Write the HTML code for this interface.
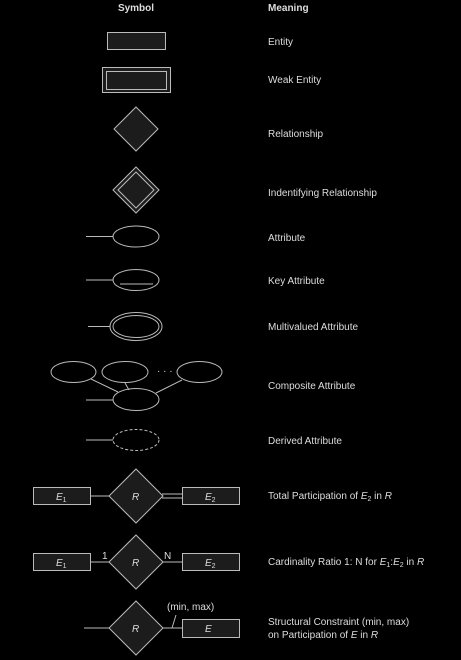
<!DOCTYPE html>
<html><head><style>
html,body{margin:0;padding:0;background:#000;}
svg{display:block}
text{font-family:"Liberation Sans",sans-serif;fill:#ddd;font-size:10px}
</style></head><body>
<svg width="461" height="660" viewBox="0 0 461 660" xmlns="http://www.w3.org/2000/svg">
<g stroke="#bbb" stroke-width="1" fill="none">
<rect x="107.5" y="32.5" width="58" height="17" fill="#1c1c1c"/>
<rect x="102.5" y="67.5" width="68" height="25" fill="#1c1c1c"/>
<rect x="106.5" y="71.5" width="60" height="18"/>
<polygon points="136,107 158,129 136,151 114,129" fill="#1c1c1c"/>
<polygon points="136,167 159,190 136,213 113,190" fill="#1c1c1c"/>
<polygon points="136,172 154,190 136,208 118,190"/>
<line x1="86" y1="236.5" x2="113" y2="236.5"/>
<ellipse cx="136" cy="236.5" rx="23" ry="10.5"/>
<line x1="86" y1="280" x2="113" y2="280"/>
<ellipse cx="136" cy="280" rx="23" ry="10.5"/>
<line x1="120" y1="284" x2="153" y2="284"/>
<line x1="88" y1="326.5" x2="110" y2="326.5"/>
<ellipse cx="136" cy="326.5" rx="26" ry="14"/>
<ellipse cx="136" cy="326.5" rx="23" ry="11"/>
<ellipse cx="73.5" cy="372" rx="22.5" ry="10.5"/>
<ellipse cx="125" cy="372" rx="23" ry="10.5"/>
<ellipse cx="199.5" cy="372" rx="22.5" ry="10.5"/>
<ellipse cx="136" cy="399.5" rx="23" ry="11"/>
<line x1="86" y1="400" x2="113" y2="400"/>
<line x1="91" y1="379" x2="118" y2="392"/>
<line x1="125" y1="383" x2="129" y2="390"/>
<line x1="182" y1="380" x2="156" y2="393"/>
<line x1="86" y1="440" x2="113" y2="440"/>
<ellipse cx="136" cy="440" rx="23" ry="10.5" stroke-dasharray="3,2"/>
<!-- total participation -->
<rect x="33.5" y="487.5" width="57" height="17" fill="#1c1c1c"/>
<rect x="182.5" y="487.5" width="57" height="17" fill="#1c1c1c"/>
<polygon points="136,469 163,496 136,523 109,496" fill="#1c1c1c"/>
<line x1="91" y1="496" x2="109" y2="496"/>
<line x1="162" y1="494" x2="182" y2="494"/>
<line x1="162" y1="498" x2="182" y2="498"/>
<!-- cardinality -->
<rect x="33.5" y="553.5" width="57" height="17" fill="#1c1c1c"/>
<rect x="182.5" y="553.5" width="57" height="17" fill="#1c1c1c"/>
<polygon points="136,535 163,562 136,589 109,562" fill="#1c1c1c"/>
<line x1="91" y1="562" x2="109" y2="562"/>
<line x1="163" y1="562" x2="182" y2="562"/>
<!-- structural -->
<polygon points="136,601 163,628 136,655 109,628" fill="#1c1c1c"/>
<rect x="182.5" y="619.5" width="57" height="18" fill="#1c1c1c"/>
<line x1="84" y1="628" x2="109" y2="628"/>
<line x1="163" y1="628" x2="182" y2="628"/>
<line x1="172" y1="628" x2="176" y2="615"/>
</g>
<text x="136" y="11" text-anchor="middle" font-weight="bold">Symbol</text>
<text x="268" y="11" font-weight="bold">Meaning</text>
<text x="268" y="45">Entity</text>
<text x="268" y="83">Weak Entity</text>
<text x="268" y="137">Relationship</text>
<text x="268" y="196">Indentifying Relationship</text>
<text x="268" y="241">Attribute</text>
<text x="268" y="284">Key Attribute</text>
<text x="268" y="330">Multivalued Attribute</text>
<text x="268" y="389">Composite Attribute</text>
<text x="268" y="444">Derived Attribute</text>
<text x="268" y="499">Total Participation of <tspan font-style="italic">E</tspan><tspan font-size="7" dy="2">2</tspan><tspan dy="-2"> in </tspan><tspan font-style="italic">R</tspan></text>
<text x="268" y="565">Cardinality Ratio 1: N for <tspan font-style="italic">E</tspan><tspan font-size="7" dy="2">1</tspan><tspan dy="-2">:</tspan><tspan font-style="italic">E</tspan><tspan font-size="7" dy="2">2</tspan><tspan dy="-2"> in </tspan><tspan font-style="italic">R</tspan></text>
<text x="268" y="625">Structural Constraint (min, max)</text>
<text x="268" y="638">on Participation of <tspan font-style="italic">E</tspan> in <tspan font-style="italic">R</tspan></text>
<text x="132" y="500" font-style="italic">R</text>
<text x="132" y="566" font-style="italic">R</text>
<text x="132" y="632" font-style="italic">R</text>
<text x="56" y="500" font-style="italic">E<tspan font-size="7" dy="2" font-style="normal">1</tspan></text>
<text x="205" y="500" font-style="italic">E<tspan font-size="7" dy="2" font-style="normal">2</tspan></text>
<text x="56" y="566" font-style="italic">E<tspan font-size="7" dy="2" font-style="normal">1</tspan></text>
<text x="205" y="566" font-style="italic">E<tspan font-size="7" dy="2" font-style="normal">2</tspan></text>
<text x="205" y="632" font-style="italic">E</text>
<text x="102" y="559">1</text>
<text x="164" y="559">N</text>
<text x="167" y="610" font-size="9">(min, max)</text>
<text x="157" y="374" font-size="10">· · ·</text>
</svg>
</body></html>
